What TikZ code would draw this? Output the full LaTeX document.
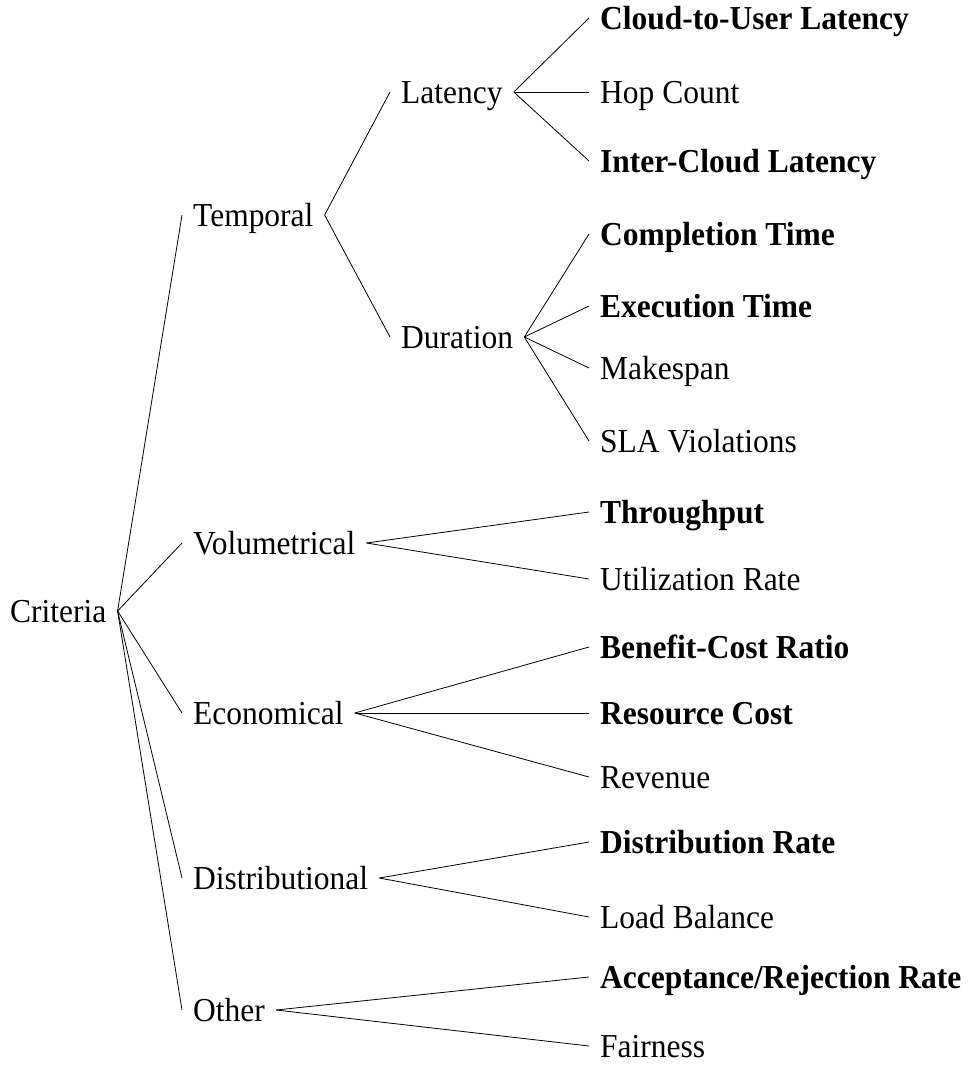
\documentclass[tikz,border=0pt]{standalone}
\usepackage{fontspec}
\setmainfont{Liberation Serif}[FakeStretch=0.94]
\begin{document}
\begin{tikzpicture}[x=1pt,y=-1pt,
  lbl/.style={anchor=west,font=\fontsize{33.5}{40}\selectfont,inner xsep=11pt,inner ysep=0pt,text height=22.6pt,text depth=0pt},
  bl/.style={lbl,font=\fontsize{33.5}{40}\selectfont\bfseries},
  edge/.style={draw=black,line width=0.8pt}]
\useasboundingbox (0,0) rectangle (971,1066);
% root
\node[lbl] (crit) at (-1,611) {Criteria};
% level 1
\node[lbl] (temp) at (182,215) {Temporal};
\node[lbl] (vol) at (182,543) {Volumetrical};
\node[lbl] (eco) at (182,713) {Economical};
\node[lbl] (dist) at (182,878) {Distributional};
\node[lbl] (oth) at (182,1010) {Other};
% level 2
\node[lbl] (lat) at (390,92) {Latency};
\node[lbl] (dur) at (390,337) {Duration};
% leaves
\node[bl] (c2u) at (589,18) {Cloud-to-User Latency};
\node[lbl] (hop) at (589,92) {Hop Count};
\node[bl] (icl) at (589,161) {Inter-Cloud Latency};
\node[bl] (comp) at (589,234) {Completion Time};
\node[bl] (exe) at (589,306) {Execution Time};
\node[lbl] (mak) at (589,368) {Makespan};
\node[lbl] (sla) at (589,441) {SLA Violations};
\node[bl] (thr) at (589,512) {Throughput};
\node[lbl] (util) at (589,579) {Utilization Rate};
\node[bl] (bcr) at (589,647) {Benefit-Cost Ratio};
\node[bl] (rc) at (589,713) {Resource Cost};
\node[lbl] (rev) at (589,777) {Revenue};
\node[bl] (dr) at (589,842) {Distribution Rate};
\node[lbl] (lb) at (589,917) {Load Balance};
\node[bl] (arr) at (589,977) {Acceptance/Rejection Rate};
\node[lbl] (fair) at (589,1046) {Fairness};
% edges
\foreach \t in {temp,vol,eco,dist,oth} \draw[edge] (crit.east) -- (\t.west);
\foreach \t in {lat,dur} \draw[edge] (temp.east) -- (\t.west);
\foreach \t in {c2u,hop,icl} \draw[edge] (lat.east) -- (\t.west);
\foreach \t in {comp,exe,mak,sla} \draw[edge] (dur.east) -- (\t.west);
\foreach \t in {thr,util} \draw[edge] (vol.east) -- (\t.west);
\foreach \t in {bcr,rc,rev} \draw[edge] (eco.east) -- (\t.west);
\foreach \t in {dr,lb} \draw[edge] (dist.east) -- (\t.west);
\foreach \t in {arr,fair} \draw[edge] (oth.east) -- (\t.west);
\end{tikzpicture}
\end{document}
